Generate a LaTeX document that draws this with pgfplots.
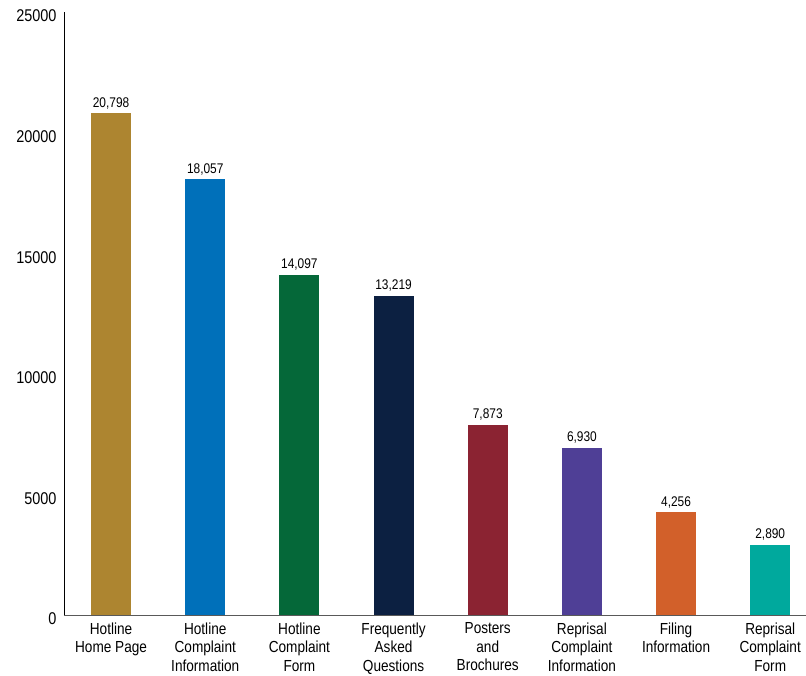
\documentclass[border=0pt]{standalone}
\usepackage{pgfplots}
\pgfplotsset{compat=1.18}
\usepackage{fontspec}
\setmainfont{Liberation Sans}[FakeStretch=0.85]
\definecolor{cA}{HTML}{AD8530}
\definecolor{cB}{HTML}{0070BA}
\definecolor{cC}{HTML}{056839}
\definecolor{cD}{HTML}{0C2041}
\definecolor{cE}{HTML}{8B2332}
\definecolor{cF}{HTML}{4F3F96}
\definecolor{cG}{HTML}{D2602A}
\definecolor{cH}{HTML}{00A99D}
\begin{document}
\begin{tikzpicture}
\begin{axis}[
  scale only axis,
  width=742pt, height=603pt,
  xmin=-0.5, xmax=7.38,
  ymin=0, ymax=25000,
  scaled y ticks=false,
  axis x line*=bottom, axis y line*=left,
  x axis line style={draw=black!65, line width=1pt, -},
  y axis line style={draw=black, line width=0.8pt, -},
  ytick={0,5000,...,25000},
  xtick={0,...,7},
  xticklabels={{Hotline\\Home Page},{Hotline\\Complaint\\Information},{Hotline\\Complaint\\Form},{Frequently\\Asked\\Questions},{Posters\\and\\Brochures},{Reprisal\\Complaint\\Information},{Filing\\Information},{Reprisal\\Complaint\\Form}},
  x tick label style={align=center, font=\fontsize{16}{18.5}\selectfont, yshift=-4pt},
  y tick label style={font=\fontsize{17}{18}\selectfont, yshift=-4pt, xshift=-4pt},
  major tick length=0pt,
  /pgf/number format/assume math mode=true,
  /pgf/number format/fixed,
  /pgf/number format/1000 sep={},
  ybar, bar width=40pt, bar shift=0pt,
  nodes near coords,
  nodes near coords style={font=\fontsize{14}{16}\selectfont, /pgf/number format/1000 sep={,}, yshift=1pt},
  clip=false,
]
\addplot[fill=cA, draw=none] coordinates {(0,20798)};
\addplot[fill=cB, draw=none] coordinates {(1,18057)};
\addplot[fill=cC, draw=none] coordinates {(2,14097)};
\addplot[fill=cD, draw=none] coordinates {(3,13219)};
\addplot[fill=cE, draw=none] coordinates {(4,7873)};
\addplot[fill=cF, draw=none] coordinates {(5,6930)};
\addplot[fill=cG, draw=none] coordinates {(6,4256)};
\addplot[fill=cH, draw=none] coordinates {(7,2890)};
\coordinate (sw) at (rel axis cs:0,0);
\coordinate (ne) at (rel axis cs:1,1);
\end{axis}
\pgfresetboundingbox
\path ([shift={(-64pt,-60pt)}]sw) rectangle ([shift={(0pt,12pt)}]ne);
\end{tikzpicture}
\end{document}
